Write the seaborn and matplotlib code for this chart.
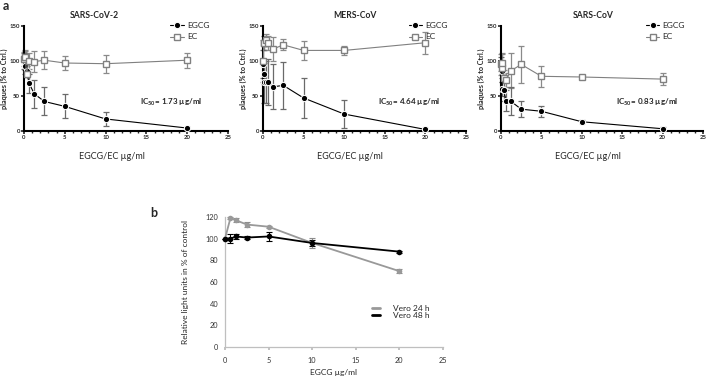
import matplotlib
matplotlib.use("Agg")
import matplotlib.pyplot as plt
from matplotlib.lines import Line2D
from matplotlib.ticker import MultipleLocator
import pandas as pd
import seaborn as sns

# concentrations (µg/ml), two-fold dilutions
conc = [0.04, 0.08, 0.16, 0.31, 0.63, 1.25, 2.5, 5, 10, 20]

sars2_egcg = [100, 97, 93, 85, 68, 53, 42, 35, 17, 4]
sars2_egcg_sd = [12, 10, 12, 8, 14, 20, 20, 17, 10, 2]
sars2_ec = [103, 106, 105, 82, 100, 99, 101, 97, 96, 101]
sars2_ec_sd = [10, 8, 10, 5, 12, 15, 13, 10, 13, 11]

mers_egcg = [95, 82, 70, 70, 70, 63, 65, 47, 24, 2]
mers_egcg_sd = [20, 15, 30, 30, 33, 32, 34, 28, 20, 2]
mers_ec = [100, 125, 125, 130, 125, 117, 123, 115, 115, 126]
mers_ec_sd = [30, 10, 10, 8, 10, 17, 8, 14, 7, 16]

sars_egcg = [95, 85, 60, 58, 43, 42, 31, 28, 13, 3]
sars_egcg_sd = [10, 10, 10, 15, 15, 20, 11, 8, 2, 2]
sars_ec = [95, 90, 97, 75, 73, 86, 95, 78, 77, 74]
sars_ec_sd = [15, 20, 15, 12, 10, 25, 26, 15, 3, 9]

titles = ["SARS-CoV-2", "MERS-CoV", "SARS-CoV"]
ic50_labels = ["1.73", "4.64", "0.83"]

# panel b: cell viability
conc_b = [0, 0.625, 1.25, 2.5, 5, 10, 20]
vero24 = [100, 119, 117, 113, 111, 96, 70]
vero24_sd = [0, 1, 2, 2, 1, 5, 2]
vero48 = [100, 100, 102, 101, 102, 96, 88]
vero48_sd = [0, 4, 2, 1, 4, 3, 1]

sns.set_theme(style="ticks")
plt.rcParams["font.family"] = ["Lato", "DejaVu Sans"]
plt.rcParams["mathtext.fontset"] = "custom"
plt.rcParams["mathtext.rm"] = "Lato"
plt.rcParams["mathtext.bf"] = "Lato:bold"

EC_GRAY = "#808080"

fig = plt.figure(figsize=(7.08, 3.76), dpi=100)

panels = [
    (sars2_egcg, sars2_egcg_sd, sars2_ec, sars2_ec_sd),
    (mers_egcg, mers_egcg_sd, mers_ec, mers_ec_sd),
    (sars_egcg, sars_egcg_sd, sars_ec, sars_ec_sd),
]
lefts = [24, 263, 501]
widths = [204, 203, 202]
title_x = [94, 355, 593]

for i, (eg, eg_sd, ec, ec_sd) in enumerate(panels):
    ax = fig.add_axes([lefts[i] / 708, 0.652, widths[i] / 708, 0.279])
    df = pd.DataFrame({
        "conc": conc * 2,
        "value": eg + ec,
        "compound": ["EGCG"] * len(conc) + ["EC"] * len(conc),
    })
    ax.errorbar(conc, ec, yerr=ec_sd, fmt="none", ecolor="#8a8a8a",
                elinewidth=0.9, capsize=2.5, capthick=0.9, clip_on=False, zorder=2)
    ax.errorbar(conc, eg, yerr=eg_sd, fmt="none", ecolor="#6a6a6a",
                elinewidth=0.9, capsize=2.5, capthick=0.9, clip_on=False, zorder=2)
    sns.lineplot(data=df, x="conc", y="value", hue="compound", style="compound",
                 hue_order=["EGCG", "EC"], style_order=["EGCG", "EC"],
                 palette={"EGCG": "black", "EC": EC_GRAY},
                 markers={"EGCG": "o", "EC": "s"}, dashes=False,
                 markersize=4.5, linewidth=0.8, ax=ax, zorder=3)
    for line in ax.lines:
        line.set_clip_on(False)
        if line.get_color() == EC_GRAY:
            line.set_markerfacecolor("white")
            line.set_markeredgecolor(EC_GRAY)
            line.set_markeredgewidth(1.0)

    ax.set_xlim(0, 25)
    ax.set_ylim(0, 150)
    ax.xaxis.set_major_locator(MultipleLocator(5))
    ax.xaxis.set_minor_locator(MultipleLocator(1))
    ax.yaxis.set_major_locator(MultipleLocator(50))
    ax.tick_params(axis="both", which="major", labelsize=4.3, length=2.2, width=1.2, pad=0.8)
    ax.tick_params(axis="x", which="minor", length=1.6, width=1.0)
    for lab in ax.get_xticklabels() + ax.get_yticklabels():
        lab.set_fontweight("bold")
    for s in ["left", "bottom"]:
        ax.spines[s].set_linewidth(1.5)
        ax.spines[s].set_color("black")
    sns.despine(ax=ax)
    ax.set_xlabel("EGCG/EC µg/ml", fontsize=6.5)
    ax.xaxis.set_label_coords(0.43, -0.2)
    ax.set_ylabel("plaques (% to Ctrl.)", fontsize=5.2, fontweight="bold")
    ax.yaxis.set_label_coords(-0.08, 0.5)
    ax.text(14.2, 41, r"IC$_{\mathbf{50}}$= " + ic50_labels[i] + " µg/ml",
            fontsize=5.8, fontweight="bold", va="center")

    handles, labels = ax.get_legend_handles_labels()
    leg = ax.legend(handles, labels, loc="upper left", bbox_to_anchor=(0.68, 1.11),
                    frameon=False, fontsize=6, handlelength=1.6, labelspacing=0.55,
                    handletextpad=0.4)
    for h in leg.legend_handles:
        if h.get_label() == "EC":
            h.set_markerfacecolor("white")
            h.set_markeredgecolor(EC_GRAY)

    fig.text(title_x[i] / 708, 1 - 15 / 376, titles[i], fontsize=6.2,
             fontweight="bold", ha="center", va="center")

fig.text(3 / 708, 1 - 6 / 376, "a", fontsize=9, fontweight="bold", ha="left", va="center")
fig.text(150 / 708, 1 - 213 / 376, "b", fontsize=9, fontweight="bold", ha="left", va="center")

# panel b
axb = fig.add_axes([225 / 708, 0.077, 218 / 708, 0.346])
dfb = pd.DataFrame({
    "conc": conc_b * 2,
    "value": vero24 + vero48,
    "cells": ["Vero 24 h"] * len(conc_b) + ["Vero 48 h"] * len(conc_b),
})
axb.errorbar(conc_b, vero24, yerr=vero24_sd, fmt="none", ecolor="#8c8c8c",
             elinewidth=0.8, capsize=2, capthick=0.8, zorder=2)
axb.errorbar(conc_b, vero48, yerr=vero48_sd, fmt="none", ecolor="black",
             elinewidth=0.8, capsize=2, capthick=0.8, zorder=2)
sns.lineplot(data=dfb, x="conc", y="value", hue="cells",
             palette={"Vero 24 h": "#999999", "Vero 48 h": "black"},
             marker="o", markersize=4, markeredgewidth=0, linewidth=1.3,
             ax=axb, zorder=3, legend=False)
for l in axb.lines:
    l.set_clip_on(False)
axb.set_xlim(0, 25)
axb.set_ylim(0, 120)
axb.xaxis.set_major_locator(MultipleLocator(5))
axb.yaxis.set_major_locator(MultipleLocator(20))
axb.tick_params(axis="both", labelsize=5.3, length=0, pad=5, colors="#333333")
axb.tick_params(axis="x", length=2, color="#bbbbbb")
for s in ["left", "bottom"]:
    axb.spines[s].set_color("#bfbfbf")
    axb.spines[s].set_linewidth(0.9)
sns.despine(ax=axb)
axb.set_xlabel("EGCG µg/ml", fontsize=6)
axb.xaxis.set_label_coords(0.5, -0.17)
axb.set_ylabel("Relative light units in % of control", fontsize=6)
axb.yaxis.set_label_coords(-0.165, 0.5)

hb = [Line2D([0], [0], color="#999999", lw=2), Line2D([0], [0], color="black", lw=2)]
axb.legend(hb, ["Vero 24 h", "Vero 48 h"], loc="center left",
           bbox_to_anchor=(0.64, 0.27), frameon=False, fontsize=6,
           handlelength=1.0, handletextpad=1.5, labelspacing=0.1)

fig.savefig("out.png", dpi=100)
